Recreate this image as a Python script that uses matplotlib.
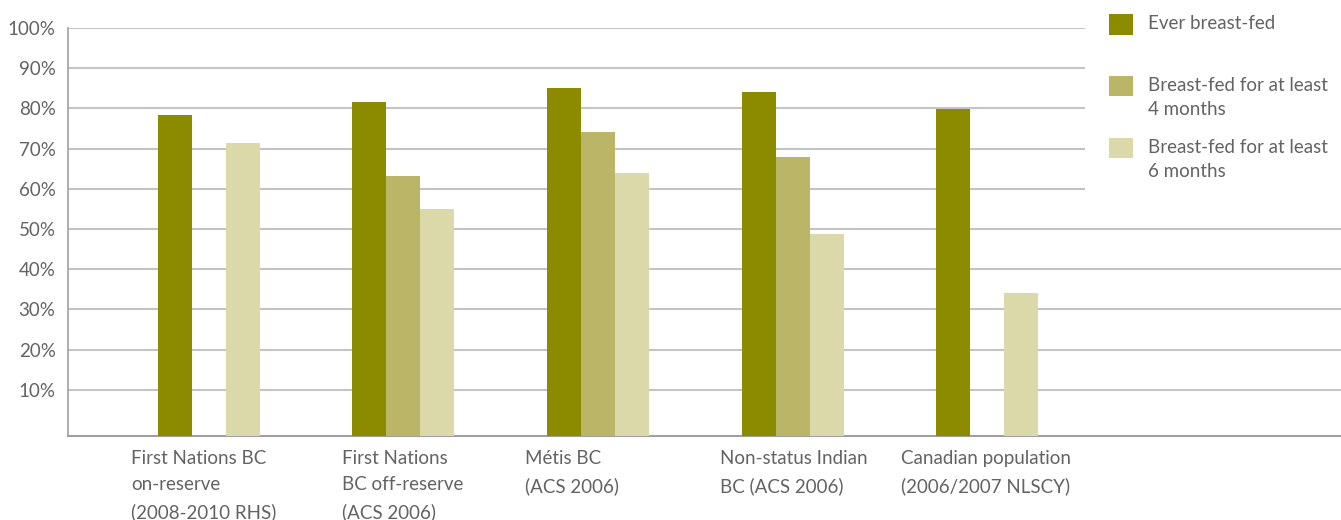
import numpy as np
import matplotlib
matplotlib.use("Agg")
import matplotlib.pyplot as plt
from matplotlib.patches import Patch, Rectangle
from matplotlib.legend_handler import HandlerPatch
from matplotlib.transforms import ScaledTranslation

plt.rcParams['font.family'] = ['Lato', 'DejaVu Sans']

groups = ['First Nations BC\non-reserve\n(2008-2010 RHS)',
          'First Nations\nBC off-reserve\n(ACS 2006)',
          'Métis BC\n(ACS 2006)',
          'Non-status Indian\nBC (ACS 2006)',
          'Canadian population\n(2006/2007 NLSCY)']
series_names = ['Ever breast-fed',
                'Breast-fed for at least\n4 months',
                'Breast-fed for at least\n6 months']
ever = [78.4, 81.6, 85.1, 84.1, 79.9]
four_months = [np.nan, 63.2, 74.1, 67.9, np.nan]
six_months = [71.4, 55.0, 63.9, 48.8, 34.1]
colors = ['#8c8b00', '#bbb567', '#dbd8aa']

# horizontal shift (px) of each category label's left edge from its group centre
label_shift = [-78, -61, -73, -73, -86]

text_color = '#636363'
grid_color = '#c4c4c4'
base = -1.5
fs = 13.5

fig = plt.figure(figsize=(13.41, 5.2), dpi=100)
ax = fig.add_axes([68 / 1341, 1 - 436 / 520, 1 - 68 / 1341, 408 / 520])

x = np.arange(len(groups))
width = 0.1747
for i, (vals, col) in enumerate(zip([ever, four_months, six_months], colors)):
    v = np.array(vals, dtype=float)
    ax.bar(x + (i - 1) * width, v - base, bottom=base, width=width,
           color=col, linewidth=0, zorder=3)

ax.set_xlim(-0.724, 5.818)
ax.set_ylim(base, 100)
ax.set_yticks(np.arange(10, 101, 10))
ax.set_yticklabels([f'{t}%' for t in range(10, 101, 10)])
ax.yaxis.grid(True, color=grid_color, linewidth=1.5, zorder=0)
ax.set_axisbelow(True)

ax.tick_params(axis='x', length=0, pad=10, labelsize=fs, labelcolor=text_color)
ax.tick_params(axis='y', length=0, pad=9, labelsize=fs, labelcolor=text_color)
ax.set_xticks(x)
ax.set_xticklabels(groups, ha='left', ma='left', linespacing=1.68)
for lab, dx in zip(ax.get_xticklabels(), label_shift):
    lab.set_transform(lab.get_transform() + ScaledTranslation(dx / 100, 0, fig.dpi_scale_trans))

for side in ['top', 'right']:
    ax.spines[side].set_visible(False)
ax.spines['left'].set_color('#a0a0a0')
ax.spines['bottom'].set_color('#a0a0a0')
ax.spines['left'].set_linewidth(1.2)
ax.spines['bottom'].set_linewidth(1.5)

# white block behind the legend, hides the grid there
cover = Rectangle((1085 / 1341, 1 - 200 / 520), 1, 200 / 520,
                  transform=fig.transFigure, facecolor='white',
                  edgecolor='none', zorder=2)
fig.add_artist(cover)


def top_square(legend, orig_handle, xdescent, ydescent, width, height, fontsize):
    # nudge the swatch so it sits beside the first text line
    return Rectangle((-xdescent, -ydescent + 8.7), width, height)


handles = [Patch(facecolor=c, edgecolor='none') for c in colors]
labels = [series_names[0] + '\n'] + series_names[1:]
leg = fig.legend(handles, labels, loc='upper left',
                 bbox_to_anchor=(1109 / 1341, 1 - 15 / 520), frameon=False,
                 borderpad=0, borderaxespad=0,
                 fontsize=fs, labelcolor=text_color,
                 handlelength=1.28, handleheight=1.28, handletextpad=0.8,
                 labelspacing=1.07,
                 handler_map={Patch: HandlerPatch(patch_func=top_square)})
for t in leg.get_texts():
    t.set_linespacing(1.55)
leg.set_zorder(3)

fig.savefig('out.png', dpi=100)
